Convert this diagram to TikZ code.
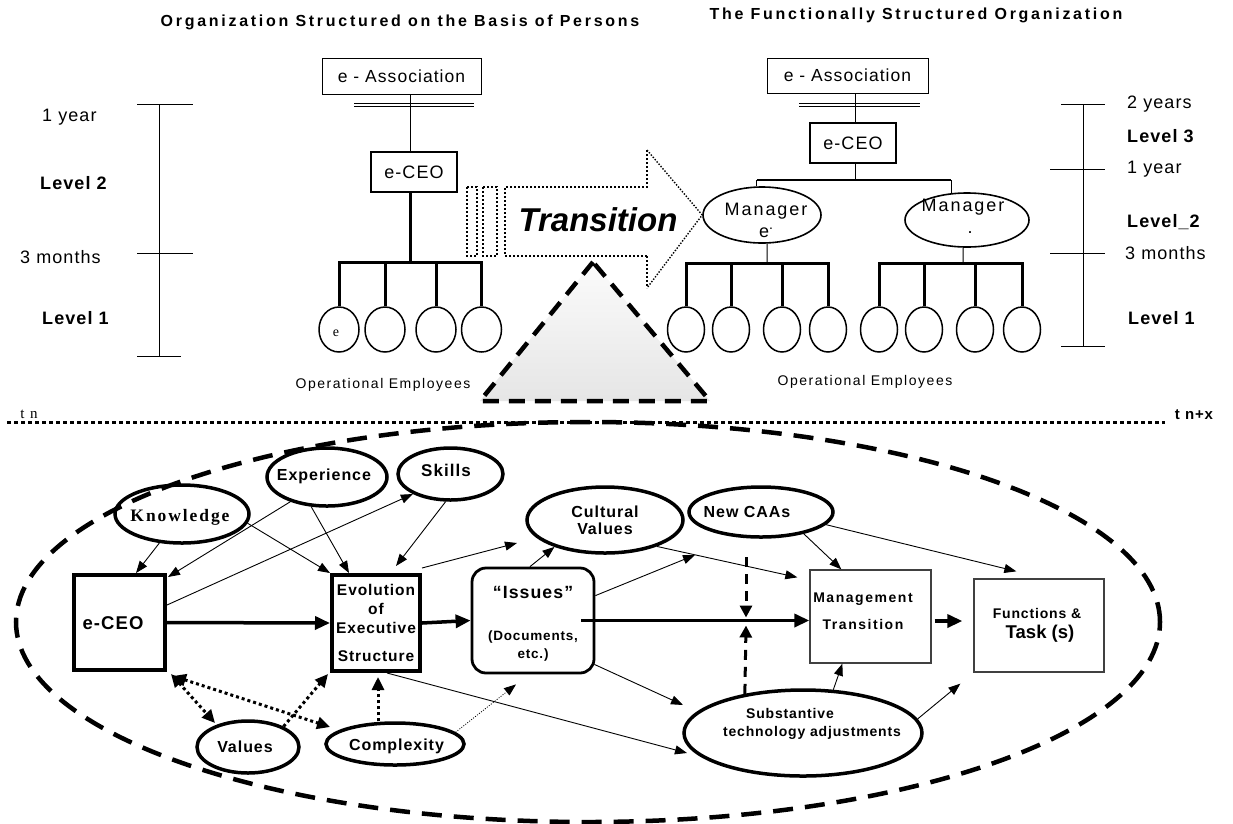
\documentclass[tikz,border=0pt]{standalone}
\usepackage{fontspec}
\setmainfont{Liberation Sans}
\newfontfamily\trkS{Liberation Sans}[LetterSpace=6]
\newfontfamily\trkM{Liberation Sans}[LetterSpace=11]
\newfontfamily\trkL{Liberation Sans}[LetterSpace=17]
\newfontfamily\serifS{Liberation Serif}[LetterSpace=11]
\newfontfamily\serifN{Liberation Serif}
\usetikzlibrary{shapes.geometric,arrows.meta,calc}
\newcommand{\fsz}[1]{\fontsize{#1}{#1}\selectfont}

\begin{document}
\begin{tikzpicture}[x=1pt,y=-1pt,line join=miter,
  every node/.style={inner sep=0pt},
  hd/.style={font=\trkL\bfseries\fsz{16}},
  tick/.style={line width=1pt},
  scl/.style={anchor=west,font=\trkS\fsz{18}},
  sclb/.style={anchor=west,font=\trkS\bfseries\fsz{18}},
  tbox/.style={draw,rectangle,line width=1pt,font=\trkS\fsz{17.5}},
  cbox/.style={draw,rectangle,line width=2pt,font=\trkS\fsz{18}},
  emp/.style={ellipse,draw,line width=1.5pt,minimum width=#1,minimum height=45pt},
  mgr/.style={ellipse,draw,line width=1.6pt},
  mgrtxt/.style={align=center,font=\trkM\fontsize{18}{22}\selectfont},
  thinl/.style={line width=1pt},
  barl/.style={line width=3pt},
  oplbl/.style={font=\trkM\fsz{14}},
  tdot/.style={line width=2pt,dash pattern=on 2pt off 2pt},
  tdiag/.style={line width=1.4pt,dash pattern=on 1.4pt off 1.6pt},
  tridash/.style={line width=4.5pt,dash pattern=on 16pt off 10pt},
  hdot/.style={line width=3pt,dash pattern=on 4pt off 3pt},
  bigdash/.style={line width=4.5pt,dash pattern=on 20pt off 12pt},
  eb/.style={ellipse,draw,line width=3.5pt},
  blbl/.style={font=\trkS\bfseries\fsz{16}},
  sblbl/.style={font=\trkS\bfseries\fsz{14}},
  arr/.style={line width=0.9pt,arrows={-Triangle[length=12pt,width=9pt]}},
  tarr/.style={line width=3.5pt,arrows={-Triangle[length=15pt,width=13pt]}},
  varr/.style={line width=3pt,dash pattern=on 10pt off 7pt,arrows={-Triangle[length=12pt,width=12pt]}},
  dotl/.style={line width=3pt,dash pattern=on 3pt off 3pt},
  sgl/.style={arrows={-Triangle[length=13pt,width=12pt]}},
  dbl/.style={arrows={Triangle[length=13pt,width=12pt]-Triangle[length=13pt,width=12pt]}},
  finedot/.style={line width=0.8pt,dash pattern=on 1pt off 1.5pt,arrows={-Triangle[length=12pt,width=9pt]}}
]
\fill[white] (0,0) rectangle (1233,823);
\useasboundingbox (0,0) rectangle (1233,823);

% ---------- headings ----------
\node[hd] (ttlL) at (400,22) {Organization Structured on the Basis of Persons};
\node[hd] (ttlR) at (916,15) {The Functionally Structured Organization};

% ---------- left time scale ----------
\draw[tick] (159,104) -- (159,356);
\draw[tick] (137,104) -- (193,104);
\draw[tick] (137,253) -- (193,253);
\draw[tick] (137,356) -- (181,356);
\node[scl]  (lsA) at (42,117) {1 year};
\node[sclb] (lsB) at (40,183) {Level 2};
\node[scl]  (lsC) at (20,257) {3 months};
\node[sclb] (lsD) at (42,318) {Level 1};

% ---------- right time scale ----------
\draw[tick] (1083,104) -- (1083,346);
\draw[tick] (1061,104) -- (1105,104);
\draw[tick] (1050,169) -- (1105,169);
\draw[tick] (1050,253) -- (1105,253);
\draw[tick] (1061,346) -- (1105,346);
\node[scl]  (rsA) at (1127,104) {2 years};
\node[sclb] (rsB) at (1127,136) {Level 3};
\node[scl]  (rsC) at (1127,169) {1 year};
\node[sclb] (rsD) at (1127,222) {Level\_2};
\node[scl]  (rsE) at (1125,253) {3 months};
\node[sclb] (rsF) at (1128,318) {Level 1};

% ---------- organization structured on persons ----------
\node[tbox,minimum width=159pt,minimum height=36pt] (assL) at (401.5,76) {e - Association};
\draw[thinl] (354,103) -- (474,103) (354,106) -- (474,106);
\node[cbox,minimum width=86pt,minimum height=40pt] (ceoL) at (414,172) {e-CEO};
\draw[thinl] ($(assL.south)+(8.5,0)$) -- ($(ceoL.north)+(-4,0)$);
\node[emp=40pt] (eL1) at (339,329.5) {};
\node[emp=40pt] (eL2) at (385,329.5) {};
\node[emp=40pt] (eL3) at (436,329.5) {};
\node[emp=40pt] (eL4) at (481.5,329.5) {};
\node[font=\serifN\fsz{14}] (eL1t) at (336,333) {e};
\coordinate (jL) at (410,262);
\draw[barl] ($(ceoL.south)+(-4,0)$) -- (jL);
\draw[barl] (eL1.north) |- (jL) -| (eL4.north);
\draw[barl] (eL2.north) -- (eL2.north |- jL);
\draw[barl] (eL3.north) -- (eL3.north |- jL);
\node[oplbl] (opL) at (383,385) {Operational Employees};

% ---------- functionally structured organization ----------
\node[tbox,minimum width=161pt,minimum height=35pt] (assR) at (847.5,75.5) {e - Association};
\draw[thinl] (799,103) -- (920,103) (799,106) -- (920,106);
\node[cbox,minimum width=86pt,minimum height=40pt] (ceoR) at (853,143) {e-CEO};
\draw[thinl] ($(assR.south)+(7.5,0)$) -- ($(ceoR.north)+(2,0)$);
\coordinate (jR) at (855,180);
\draw[thinl] (ceoR.south -| jR) -- (jR);
\node[mgr,minimum width=118pt,minimum height=56pt] (mgL) at (762,215) {};
\node[mgr,minimum width=124pt,minimum height=54pt] (mgR) at (967,220) {};
\draw[line width=2.2pt] (mgL.100 |- jR) -- (mgR.120 |- jR);
\draw[thinl] (mgL.100) -- (mgL.100 |- jR);
\draw[thinl] (mgR.120) -- (mgR.120 |- jR);
\node[mgrtxt] (mgLt) at (766,220) {Manager\\e\raisebox{8pt}{\fsz{14}.}};
\node[mgrtxt] (mgRt) at (963,216) {Manager\\\hspace*{14pt}.};

\foreach \nm/\xx in {eR1/686,eR2/731,eR3/782,eR4/828,eR5/879,eR6/924,eR7/975,eR8/1022}
  \node[emp=37pt] (\nm) at (\xx,329.5) {};
\coordinate (kL) at (767,263);
\coordinate (kR) at (963,263);
\draw[thinl] (mgL.-80) -- (kL);
\draw[thinl] (mgR.-98) -- (kR);
\draw[barl] (eR1.north) |- (kL) -| (eR4.north);
\draw[barl] (eR2.north) -- (eR2.north |- kL);
\draw[barl] (eR3.north) -- (eR3.north |- kL);
\draw[barl] (eR5.north) |- (kR) -| (eR8.north);
\draw[barl] (eR6.north) -- (eR6.north |- kR);
\draw[barl] (eR7.north) -- (eR7.north |- kR);
\node[oplbl] (opR) at (865,382) {Operational Employees};

% ---------- transition arrow ----------
\draw[tdot] (467,187) rectangle (477,256);
\draw[tdot] (483,187) rectangle (497,256);
\draw[tdot] (647,256) -- (505,256) -- (505,187) -- (647,187) -- (647,150);
\draw[tdot] (647,256) -- (647,288);
\draw[tdiag] (647,150) -- (mgL.west) -- (647,288);
\node[font=\bfseries\itshape\fsz{33}] (trans) at (598,220) {Transition};

% ---------- shaded triangle ----------
\coordinate (triA) at (593,262);
\coordinate (triB) at (480,401);
\coordinate (triC) at (710,401);
\shade[top color=gray!3,bottom color=gray!20] (triA) -- (triB) -- (triC) -- cycle;
\draw[tridash] (triA) -- (triB) -- (triC) -- cycle;

% ---------- time line ----------
\coordinate (tl0) at (7,422);
\coordinate (tl1) at (1165,422);
\draw[hdot] (tl0) -- (tl1);
\node[font=\serifS\fsz{15}] (tn) at (29,414) {t n};
\node[font=\trkS\bfseries\fsz{15}] (tnx) at (1194,415) {t n+x};

% ---------- enclosing dashed ellipse ----------
\draw[bigdash] (588,622) ellipse [x radius=572pt, y radius=200pt];

% ---------- factor nodes ----------
\node[eb,minimum width=134pt,minimum height=58pt] (know) at (182,514) {};
\node[font=\serifS\bfseries\fsz{17.5}] (knowT) at (180,517) {Knowledge};
\node[eb,minimum width=120pt,minimum height=58pt] (exp) at (327,477) {};
\node[blbl] (expT) at (324,476) {Experience};
\node[eb,minimum width=105pt,minimum height=52pt] (skills) at (450.5,474) {};
\node[blbl,font=\trkS\bfseries\fsz{17}] (skillsT) at (446,470) {Skills};
\node[eb,minimum width=156pt,minimum height=66pt] (cult) at (605,520) {};
\node[blbl,align=center,font=\trkS\bfseries\fontsize{16}{17}\selectfont] (cultT) at (605,520) {Cultural\\Values};
\node[eb,minimum width=144pt,minimum height=50pt] (newcaa) at (761,512) {};
\node[blbl] (newcaaT) at (747,512) {New CAAs};
\node[eb,minimum width=102pt,minimum height=52pt] (values) at (248,747) {};
\node[blbl] (valuesT) at (245,747) {Values};
\node[eb,minimum width=138pt,minimum height=42pt] (cplx) at (395,744) {};
\node[blbl] (cplxT) at (396.5,746) {Complexity};
\node[eb,minimum width=238pt,minimum height=86pt] (subst) at (803,733) {};
\node[sblbl] (substA) at (790,713) {Substantive};
\node[sblbl] (substB) at (812,733) {technology\ adjustments};

\node[draw,line width=4pt,minimum width=91pt,minimum height=95pt] (eceo) at (119.5,622.5) {};
\node[font=\trkS\bfseries\fsz{18.5}] (eceoT) at (113,623) {e-CEO};
\node[draw,line width=4pt,minimum width=88pt,minimum height=96pt,align=center,
      font=\trkS\bfseries\fontsize{15.5}{19}\selectfont] (evo) at (376,623)
      {Evolution\\of\\Executive\\[9pt]Structure};
\node[draw,line width=2.8pt,rounded corners=14pt,minimum width=122pt,minimum height=105pt] (issues) at (533,620.5) {};
\node[font=\trkS\bfseries\fsz{17.7}] (issT1) at (533,592) {“Issues”};
\node[font=\trkS\bfseries\fsz{13.5}] (issT2) at (533,637) {(Documents,};
\node[font=\trkS\bfseries\fsz{13.5}] (issT3) at (533,655) {etc.)};
\node[draw=black!75,line width=1.3pt,minimum width=121pt,minimum height=93pt] (mgmt) at (870.5,616.5) {};
\node[align=center,font=\trkM\bfseries\fontsize{14}{27}\selectfont] (mgmtT) at (863,611.5) {Management\\Transition};
\node[draw=black!75,line width=1.3pt,minimum width=130pt,minimum height=93pt] (func) at (1039,625.5) {};
\node[font=\trkS\bfseries\fsz{14}] (funcA) at (1037,613) {Functions \&};
\node[font=\bfseries\fsz{18.5}] (funcB) at (1040,634) {Task (s)};

% ---------- thin influence arrows ----------
\draw[arr] (know) -- ($(eceo.north west)+(64,0)$);
\draw[arr] (know.-8) -- (evo.north west);
\draw[arr] (exp.-146) -- ($(eceo.north east)+(1,4)$);
\draw[arr] (exp.-118) -- ($(evo.north west)+(19,0)$);
\draw[arr] ($(eceo.north east)+(0,32)$) -- (skills.-152);
\draw[arr] (skills.-100) -- ($(evo.north west)+(66,-7)$);
\coordinate (cvL) at ($(cult)+(-88,23)$);
\coordinate (cvR) at ($(cult)+(90,35)$);
\draw[arr] ($(evo.north east)+(0,-5)$) -- (cvL);
\draw[arr] ($(issues.north)+(-3,0)$) -- (cult.-152);
\draw[arr] ($(issues.north east)+(0,29)$) -- (cvR);
\draw[arr] (cult.-27) -- ($(mgmt.north west)+(-12,8)$);
\draw[arr] (newcaa.-27) -- ($(mgmt.north west)+(32,0)$);
\draw[arr] (newcaa.-11) -- ($(func.north west)+(43,-7)$);
\draw[arr] ($(evo.south)+(11,0)$) -- ($(subst)+(-116,20)$);
\draw[arr] ($(issues.south east)+(-1,-10)$) -- ($(subst)+(-120,-28)$);
\draw[arr] (subst.55) -- ($(mgmt.south west)+(33,0)$);
\draw[arr] (subst.7) -- ($(func.south west)+(-13,11)$);

% ---------- main flow ----------
\draw[tarr] (eceo.east) -- (evo.west);
\draw[tarr] (evo.east) -- (issues.west);
\draw[tarr] ($(issues.east)+(-14,0)$) -- (issues.east -| mgmt.west);
\draw[tarr] ($(mgmt.east)+(3,4.5)$) -- ($(func.west)+(-11,-4.5)$);

% ---------- dashed pressures on the flow ----------
\coordinate (xcut) at (746,620.5);
\coordinate (dtop) at (746,557);
\draw[varr] (dtop) -- ($(xcut)+(0,-3)$);
\draw[varr] (subst.146) -- ($(xcut)+(0,5)$);

% ---------- dotted relations ----------
\draw[dotl,dbl] ($(eceo.south east)+(4,2)$) -- ($(values)+(-33,-24)$);
\draw[dotl,dbl] ($(eceo.south east)+(6,4)$) -- ($(cplx)+(-65,-17)$);
\draw[dotl,sgl] (values.30) -- ($(evo.south west)+(-2,1)$);
\draw[dotl,sgl] ($(cplx.north)+(-17,0)$) -- ($(evo.south)+(2,4)$);
\draw[finedot] (cplx.11) -- ($(issues.south)+(-17,10)$);
\end{tikzpicture}
\end{document}
